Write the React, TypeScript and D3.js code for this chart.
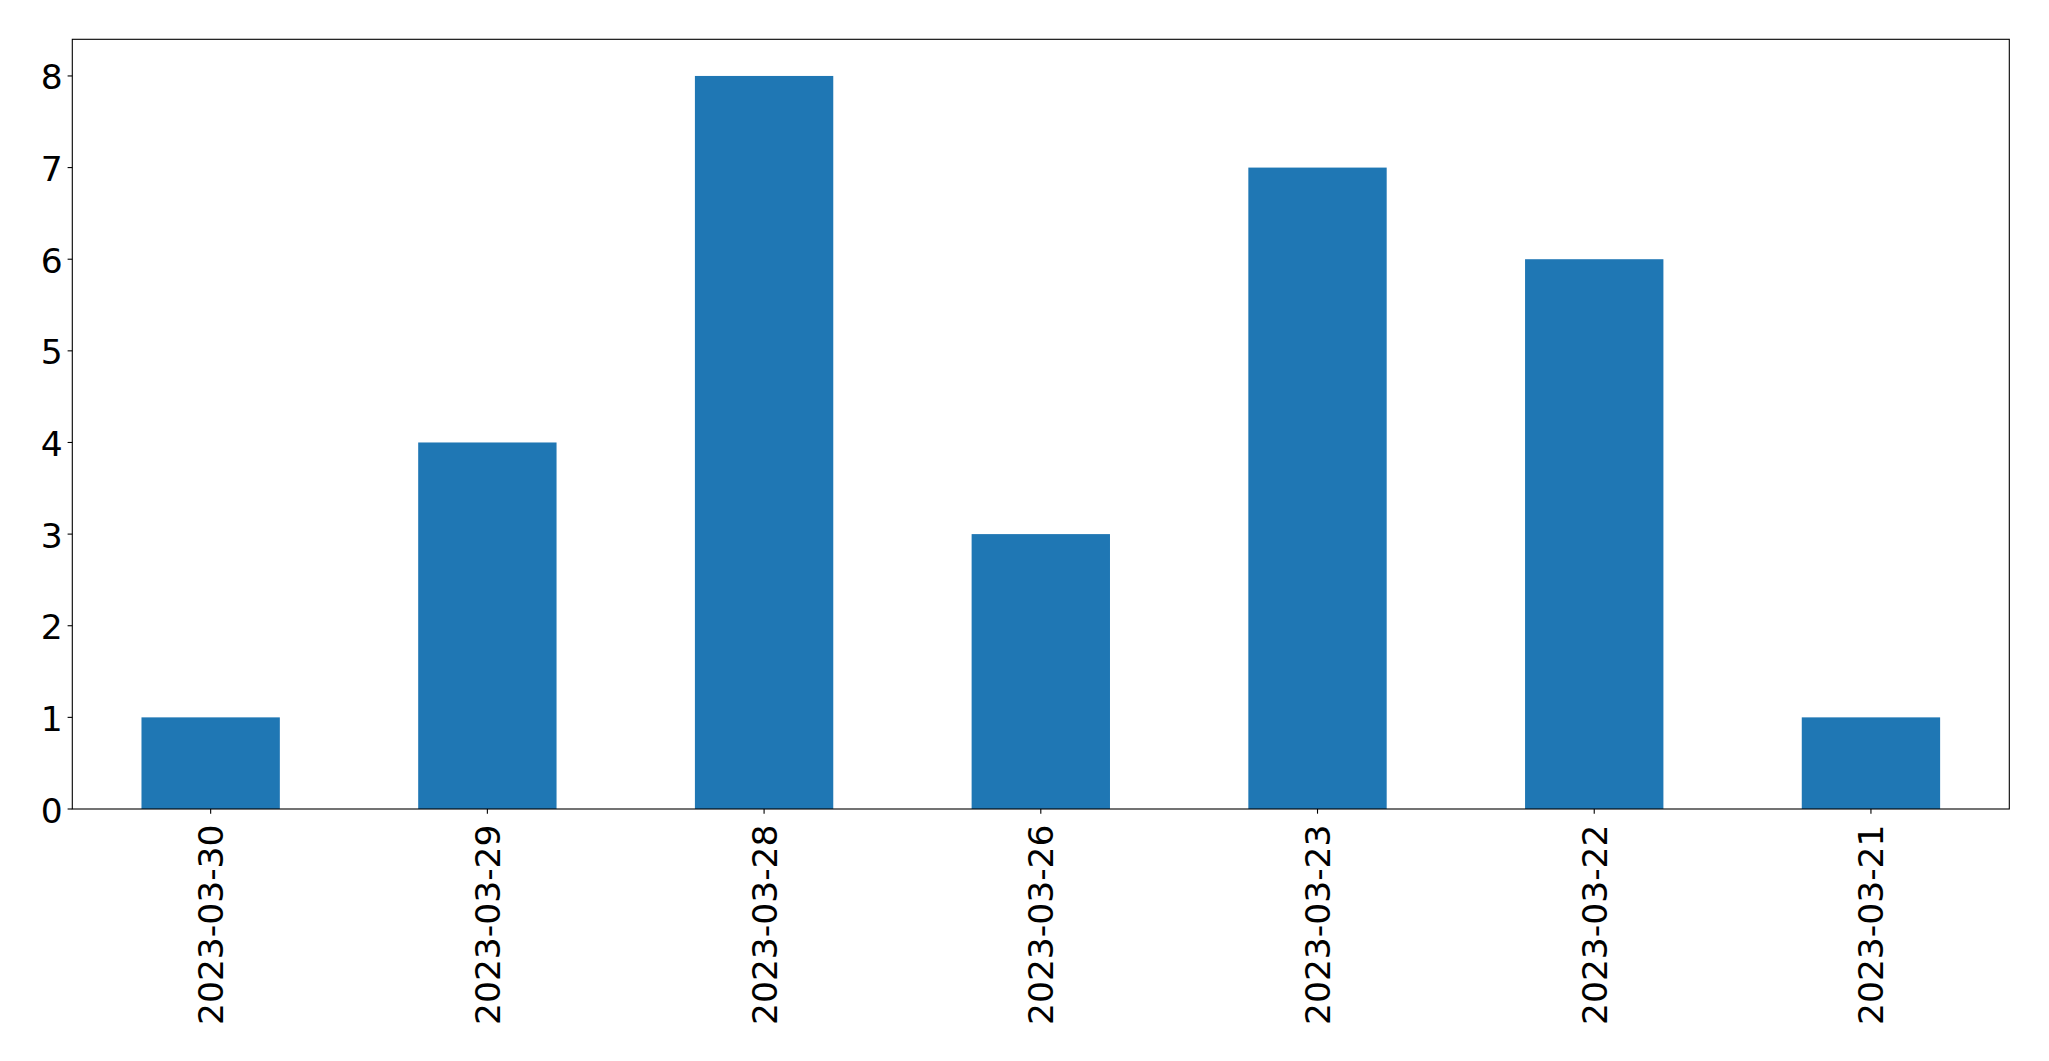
import React from "react";
import * as d3 from "d3";

const categories: string[] = [
  "2023-03-30",
  "2023-03-29",
  "2023-03-28",
  "2023-03-26",
  "2023-03-23",
  "2023-03-22",
  "2023-03-21",
];
const values: number[] = [1, 4, 8, 3, 7, 6, 1];
const yTicks: number[] = [0, 1, 2, 3, 4, 5, 6, 7, 8];

const W = 2049;
const H = 1061;
const left = 72.3;
const right = 2009.3;
const top = 39.3;
const bottom = 809;
const FONT = 34.5;

export default function App() {
  const n = categories.length;
  const x = d3.scaleLinear().domain([-0.5, n - 0.5]).range([left, right]);
  const yMax = d3.max(values)! * 1.05;
  const y = d3.scaleLinear().domain([0, yMax]).range([bottom, top]);
  const barW = 0.5;

  return (
    <svg
      width={W}
      height={H}
      style={{ position: "absolute", left: 0, top: 0, background: "#fff" }}
      fontFamily="DejaVu Sans, sans-serif"
    >
      <rect x={0} y={0} width={W} height={H} fill="#fff" />
      {values.map((v, i) => (
        <rect
          key={i}
          x={x(i - barW / 2)}
          width={x(i + barW / 2) - x(i - barW / 2)}
          y={y(v)}
          height={y(0) - y(v)}
          fill="#1f77b4"
        />
      ))}
      <rect
        x={left}
        y={top}
        width={right - left}
        height={bottom - top}
        fill="none"
        stroke="#000"
        strokeWidth={1.1}
      />
      {yTicks.map((t) => (
        <g key={t}>
          <line x1={left - 4.7} x2={left} y1={y(t)} y2={y(t)} stroke="#000" strokeWidth={1.1} />
          <text x={left - 9.5} y={y(t)} dy={13.5} textAnchor="end" fontSize={FONT} fill="#000">
            {t}
          </text>
        </g>
      ))}
      {categories.map((c, i) => (
        <g key={c}>
          <line x1={x(i)} x2={x(i)} y1={bottom} y2={bottom + 4.7} stroke="#000" strokeWidth={1.1} />
          <text
            transform={`translate(${x(i)},${bottom + 15.5}) rotate(-90)`}
            dy={12.5}
            textAnchor="end"
            fontSize={FONT}
            fill="#000"
          >
            {c}
          </text>
        </g>
      ))}
    </svg>
  );
}
